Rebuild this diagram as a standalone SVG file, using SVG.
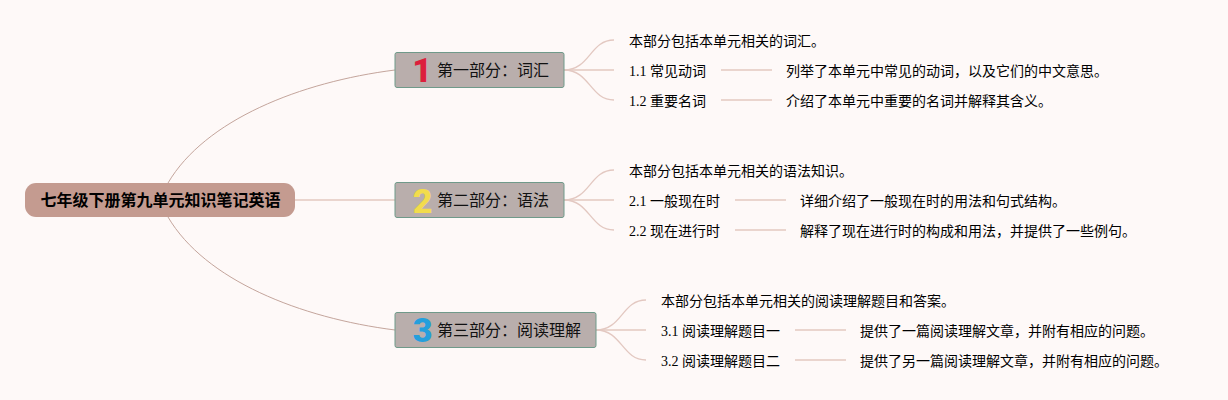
<svg xmlns="http://www.w3.org/2000/svg" width="1228" height="400" viewBox="0 0 1228 400">
<style>
text{font-family:"Liberation Serif","Noto Sans CJK SC",serif;fill:#000}
.t{font-size:14px}
.p{font-size:16px;fill:#111}
.r{font-size:16px;font-weight:bold}
.box{fill:#b9aeac;stroke:#6f9a8a;stroke-width:1}
.n{font-family:Roboto,sans-serif;font-size:34px;font-weight:900;text-anchor:middle}
.c path{fill:none;stroke:#e3c8c1;stroke-width:1.3}
.c path.m{stroke:#c4a59c;stroke-width:1}
</style>
<rect width="1228" height="400" fill="#fef9f8"/>
<g class="c" id="connectors">
<path class="m" d="M168 183C205 120 300 82 395 70"/>
<path d="M295 200H395"/>
<path class="m" d="M168 217C205 280 300 318 395 330"/>
<path d="M564 70C590 70 590 40 614 40"/>
<path d="M564 70H614"/>
<path d="M564 70C590 70 590 100 614 100"/>
<path d="M721 70H772"/>
<path d="M721 100H772"/>
<path d="M564 200C590 200 590 170 614 170"/>
<path d="M564 200H614"/>
<path d="M564 200C590 200 590 230 614 230"/>
<path d="M735 200H786"/>
<path d="M735 230H786"/>
<path d="M596 330C622 330 622 300 646 300"/>
<path d="M596 330H646"/>
<path d="M596 330C622 330 622 360 646 360"/>
<path d="M795 330H846"/>
<path d="M795 360H846"/>
</g>
<g id="root"><rect x="25" y="183" width="270" height="34" rx="11" fill="#c49b90"/><text class="r" x="40.500" y="206">七年级下册第九单元知识笔记英语</text></g>
<g id="part1"><rect class="box" x="395" y="52.500" width="169" height="35" rx="2"/><text class="n" x="422" y="82" style="fill:#dc1f3c">1</text><text class="p" x="437" y="76">第一部分：词汇</text></g>
<g id="part2"><rect class="box" x="395" y="182.500" width="169" height="35" rx="2"/><text class="n" x="422.500" y="213" style="fill:#f2dc4c">2</text><text class="p" x="437" y="206">第二部分：语法</text></g>
<g id="part3"><rect class="box" x="395" y="312.500" width="201" height="35" rx="2"/><text class="n" x="422.500" y="342" style="fill:#259fdc">3</text><text class="p" x="437" y="336">第三部分：阅读理解</text></g>
<g id="n1-0"><text class="t" x="629" y="46">本部分包括本单元相关的词汇。</text></g>
<g id="n1-1"><text class="t" x="629" y="76">1.1 常见动词</text></g>
<g id="n1-1d"><text class="t" x="786" y="76">列举了本单元中常见的动词，以及它们的中文意思。</text></g>
<g id="n1-2"><text class="t" x="629" y="106">1.2 重要名词</text></g>
<g id="n1-2d"><text class="t" x="786" y="106">介绍了本单元中重要的名词并解释其含义。</text></g>
<g id="n2-0"><text class="t" x="629" y="176">本部分包括本单元相关的语法知识。</text></g>
<g id="n2-1"><text class="t" x="629" y="206">2.1 一般现在时</text></g>
<g id="n2-1d"><text class="t" x="800" y="206">详细介绍了一般现在时的用法和句式结构。</text></g>
<g id="n2-2"><text class="t" x="629" y="236">2.2 现在进行时</text></g>
<g id="n2-2d"><text class="t" x="800" y="236">解释了现在进行时的构成和用法，并提供了一些例句。</text></g>
<g id="n3-0"><text class="t" x="661" y="306">本部分包括本单元相关的阅读理解题目和答案。</text></g>
<g id="n3-1"><text class="t" x="661" y="336">3.1 阅读理解题目一</text></g>
<g id="n3-1d"><text class="t" x="860" y="336">提供了一篇阅读理解文章，并附有相应的问题。</text></g>
<g id="n3-2"><text class="t" x="661" y="366">3.2 阅读理解题目二</text></g>
<g id="n3-2d"><text class="t" x="860" y="366">提供了另一篇阅读理解文章，并附有相应的问题。</text></g>
</svg>
